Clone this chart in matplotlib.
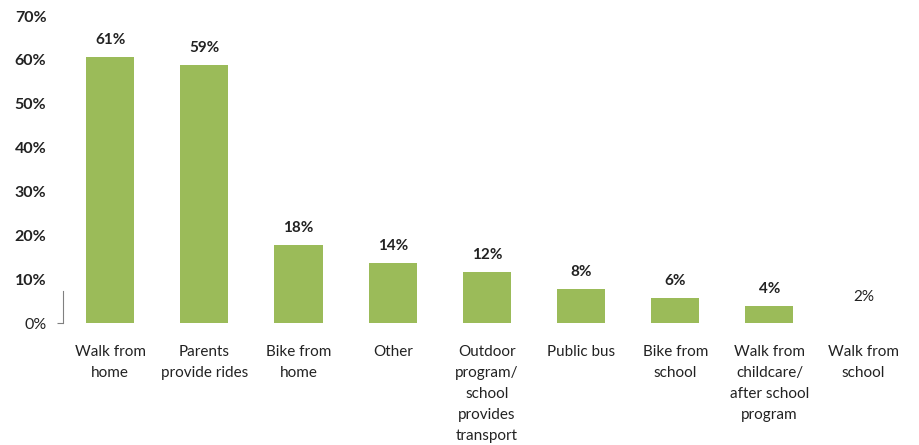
import matplotlib.pyplot as plt
from matplotlib.ticker import PercentFormatter

plt.rcParams['font.family'] = ['Lato', 'DejaVu Sans']

categories = ['Walk from\nhome', 'Parents\nprovide rides', 'Bike from\nhome', 'Other',
              'Outdoor\nprogram/\nschool\nprovides\ntransport', 'Public bus',
              'Bike from\nschool', 'Walk from\nchildcare/\nafter school\nprogram',
              'Walk from\nschool']
values = [0.606, 0.588, 0.177, 0.137, 0.116, 0.077, 0.057, 0.039, 0.02]
labels = ['61%', '59%', '18%', '14%', '12%', '8%', '6%', '4%', '2%']
bar_colors = ['#9BBB59'] * 8 + ['none']

fig = plt.figure(figsize=(9.19, 4.45), dpi=100)
ax = fig.add_axes([0.0686, 0.274, 0.9224, 0.690])

x = range(len(categories))
bars = ax.bar(x, values, width=0.51, color=bar_colors)

for i, (b, lab) in enumerate(zip(bars, labels)):
    last = i == len(labels) - 1
    ax.annotate(lab, (b.get_x() + b.get_width() / 2, b.get_height()),
                xytext=(0, 7.5), textcoords='offset points', ha='center', va='bottom',
                fontsize=11, fontweight='normal' if last else 'bold', color='#222222')

ax.set_ylim(0, 0.7)
ax.set_xlim(-0.5, len(categories) - 0.5)
ax.yaxis.set_major_formatter(PercentFormatter(1.0, decimals=0))
ax.set_yticks([i / 10 for i in range(8)])
ax.set_xticks(list(x))
ax.set_xticklabels(categories, fontsize=11, color='#222222', linespacing=1.62, va='top')
ax.tick_params(axis='x', length=0, pad=16)
ax.tick_params(axis='y', length=4, color='#808080', pad=8, labelsize=11.5, labelcolor='#222222')

for t in ax.yaxis.get_major_ticks()[1:]:
    t.tick1line.set_visible(False)
for i, t in enumerate(ax.get_yticklabels()):
    t.set_fontweight('normal' if i == 0 else 'bold')

for s in ['top', 'right', 'bottom']:
    ax.spines[s].set_visible(False)
ax.spines['left'].set_color('#808080')
ax.spines['left'].set_bounds(0, 0.073)

fig.savefig('out.png', dpi=100)
